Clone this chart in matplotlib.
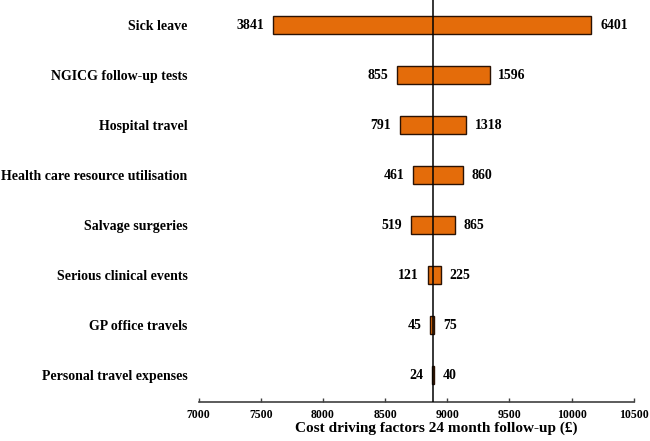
import matplotlib.pyplot as plt
import numpy as np

factors = ['Sick leave', 'NGICG follow-up tests', 'Hospital travel',
           'Health care resource utilisation', 'Salvage surgeries',
           'Serious clinical events', 'GP office travels', 'Personal travel expenses']
low_vals = [3841, 855, 791, 461, 519, 121, 45, 24]
high_vals = [6401, 1596, 1318, 860, 865, 225, 75, 40]

# bar ends on the total cost axis
bar_left = [7594, 8594, 8618, 8728, 8706, 8841, 8864, 8874]
bar_right = [10159, 9341, 9150, 9126, 9059, 8946, 8896, 8890]
base = 8881

font = 'Liberation Serif'

fig = plt.figure(figsize=(6.5, 4.41), dpi=100)
ax = fig.add_axes([0.3057, 0.0884, 0.975 - 0.3057, 1 - 0.0884])

y = np.arange(len(factors))
widths = np.array(bar_right) - np.array(bar_left)
ax.barh(y, widths, left=bar_left, height=0.35, color='#E46C0A',
        edgecolor='#2a1204', linewidth=1.0, zorder=2)

ax.axvline(base, color='black', lw=1.1, zorder=3)

for i in range(len(factors)):
    ax.text(bar_left[i] - 70, y[i], str(low_vals[i]), ha='right', va='center',
            fontsize=10, fontweight='bold', family=font)
    ax.text(bar_right[i] + 70, y[i], str(high_vals[i]), ha='left', va='center',
            fontsize=10, fontweight='bold', family=font)

ax.set_xlim(7000, 10500)
ax.set_ylim(7.54, -0.5)
ax.set_yticks(y)
ax.set_yticklabels(factors, fontsize=10, fontweight='bold', family=font)
ax.tick_params(axis='y', length=0, pad=8)
ax.set_xticks(np.arange(7000, 10501, 500))
ax.tick_params(axis='x', direction='in', length=3, width=1, color='#404040', labelsize=8.5, pad=5)
for lab in ax.get_xticklabels():
    lab.set_fontweight('bold')
    lab.set_family(font)

for s in ['top', 'right', 'left']:
    ax.spines[s].set_visible(False)
ax.spines['bottom'].set_color('#404040')
ax.spines['bottom'].set_linewidth(1.2)

ax.set_xlabel('Cost driving factors 24 month follow-up (£)', fontsize=11,
              fontweight='bold', family=font)
ax.xaxis.set_label_coords(0.545, -0.048)

plt.savefig('out.png', dpi=100)
